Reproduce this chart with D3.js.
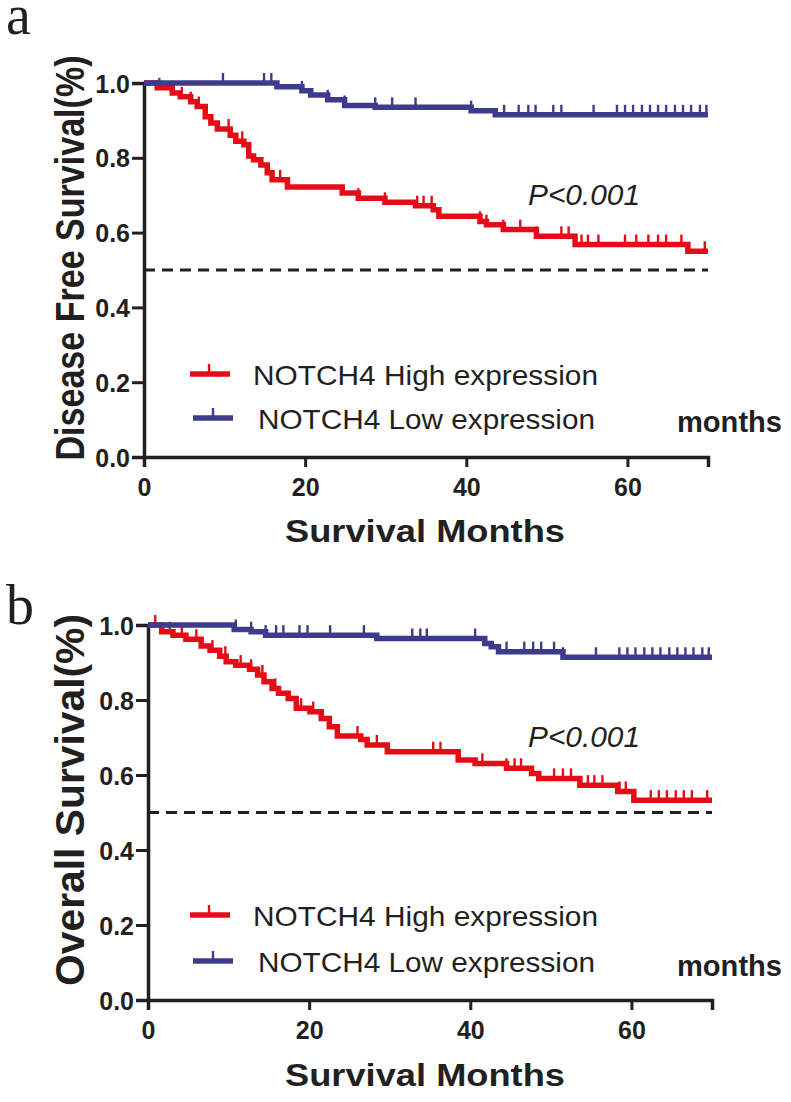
<!DOCTYPE html>
<html><head><meta charset="utf-8">
<script src="https://cdn.jsdelivr.net/npm/d3@7"></script>
<style>body{margin:0;background:#fff}svg{display:block}</style>
</head><body>
<script>
// ---------- data ----------
const xTicks = [0, 20, 40, 60];
const yTicks = [0, 0.2, 0.4, 0.6, 0.8, 1.0];
const seriesNames = ["NOTCH4 High expression", "NOTCH4 Low expression"];
const panelLetters = ["a", "b"];
const yTitles = ["Disease Free Survival(%)", "Overall Survival(%)"];
const xTitle = "Survival Months";
const unitLabel = "months";
const pLabel = "P<0.001";

// Panel a: disease free survival  [month, survival after step]
const dfsHighSteps = [[0,1],[1.65,0.987],[3.5,0.973],[4.5,0.963],[5.8,0.95],[6.6,0.937],[7.6,0.91],[8.3,0.893],[9.1,0.877],[10.7,0.86],[11.4,0.844],[12.4,0.835],[13.0,0.805],[13.6,0.795],[14.5,0.781],[15.3,0.76],[15.9,0.741],[17.8,0.722],[24.6,0.706],[26.6,0.692],[29.9,0.681],[33.7,0.672],[35.9,0.661],[36.6,0.644],[41.7,0.63],[42.5,0.621],[44.6,0.608],[48.7,0.59],[53.5,0.568],[67.5,0.55]];
const dfsHighCensor = [1.9,4.7,5.8,6.8,10.5,12.2,16.9,26.6,29.9,33.9,34.7,35.7,41.7,42.5,44.6,46.7,48.7,51.8,52.7,54.3,55.1,56.4,59.7,61.1,62.6,63.8,64.8,66.7,69.6];
const dfsLowSteps = [[0,1],[16.5,0.99],[19.6,0.979],[20.7,0.968],[22.8,0.955],[24.9,0.94],[28.7,0.935],[40.6,0.926],[43.6,0.915]];
const dfsLowCensor = [9.8,14.9,15.8,19.6,22.8,24.9,28.7,30.8,33.7,40.6,44.7,46.5,47.7,48.6,50.8,51.8,55.8,58.7,59.7,60.7,61.8,62.8,63.8,64.8,65.9,66.9,67.9,69.0,69.8];

// Panel b: overall survival
const osHighSteps = [[0,1],[1.7,0.982],[3.1,0.973],[4.7,0.962],[6.6,0.944],[7.7,0.933],[8.9,0.917],[9.7,0.902],[10.9,0.893],[12.6,0.882],[13.6,0.867],[14.4,0.849],[15.4,0.831],[16.2,0.818],[17.4,0.804],[18.4,0.778],[20.1,0.769],[21.5,0.751],[22.5,0.729],[23.5,0.704],[26.4,0.695],[27.2,0.68],[29.7,0.662],[38.5,0.64],[40.6,0.631],[44.5,0.618],[47.6,0.604],[48.5,0.591],[53.6,0.573],[58.3,0.556],[60.3,0.533]];
const osHighCensor = [0.9,2.7,4.2,6.0,8.0,9.6,11.5,12.8,14.2,15.8,19.0,20.5,26.0,28.4,35.4,36.3,38.5,41.5,44.5,45.5,46.3,50.4,51.5,52.5,54.6,55.4,56.4,58.5,59.3,62.4,63.4,64.4,65.5,66.5,67.5,69.4];
const osLowSteps = [[0,1],[10.7,0.988],[12.8,0.982],[14.6,0.973],[28.4,0.964],[41.8,0.951],[42.6,0.942],[43.5,0.929],[51.5,0.914]];
const osLowCensor = [10.9,12.8,14.6,15.9,16.8,18.8,19.8,22.6,26.8,32.8,33.8,34.6,40.6,44.5,46.7,47.8,48.8,50.4,51.5,55.6,58.5,59.5,60.5,61.6,62.6,63.6,64.7,65.7,66.7,67.7,68.8,69.6];

const xMax = 70;
const medianLine = 0.5;

// ---------- style ----------
const RED = "#e50b17", BLUE = "#3e3b8c", INK = "#231f20";

const svg = d3.select("body").append("svg").attr("width", 791).attr("height", 1102);

const panels = [
  {letterY: 34, x0: 144, x1: 708, yTop: 83, yBot: 457, high: [dfsHighSteps, dfsHighCensor], low: [dfsLowSteps, dfsLowCensor], titleCY: 258, titleLen: 405, pY: 205, legY: [374, 418], monthsY: 432, xTitleY: 542},
  {letterY: 624, x0: 148, x1: 712, yTop: 625, yBot: 1000, high: [osHighSteps, osHighCensor], low: [osLowSteps, osLowCensor], titleCY: 800, titleLen: 372, pY: 747, legY: [915, 961], monthsY: 976, xTitleY: 1086}
];

function survAt(steps, t) {
  let s = steps[0][1];
  for (const d of steps) { if (d[0] <= t) s = d[1]; }
  return s;
}

panels.forEach((p, i) => {
  const g = svg.append("g");
  const x = d3.scaleLinear().domain([0, xMax]).range([p.x0, p.x1]);
  const y = d3.scaleLinear().domain([0, 1]).range([p.yBot, p.yTop]);

  // panel letter
  g.append("text").attr("x", 6).attr("y", p.letterY)
    .attr("font-family", "Liberation Serif, serif").attr("font-size", 56).attr("fill", INK)
    .text(panelLetters[i]);

  // median dashed line
  g.append("line").attr("x1", x(0)).attr("x2", x(xMax)).attr("y1", y(medianLine)).attr("y2", y(medianLine))
    .attr("stroke", INK).attr("stroke-width", 2.8).attr("stroke-dasharray", "11,7");

  // axes
  const yAx = g.append("g").attr("transform", `translate(${x(0)},0)`)
    .call(d3.axisLeft(y).tickValues(yTicks).tickFormat(d3.format(".1f")).tickSizeOuter(0).tickSize(12).tickPadding(2));
  const xAx = g.append("g").attr("transform", `translate(0,${y(0)})`)
    .call(d3.axisBottom(x).tickValues(xTicks).tickFormat(d3.format("d")).tickSizeOuter(0).tickSize(10).tickPadding(11));
  [yAx, xAx].forEach(a => {
    a.select(".domain").attr("stroke", INK).attr("stroke-width", 3.5);
    a.selectAll(".tick line").attr("stroke", INK).attr("stroke-width", 3);
    a.selectAll(".tick text").attr("fill", INK).attr("font-family", "Liberation Sans, Arial, sans-serif")
      .attr("font-weight", "bold").attr("font-size", 25);
  });
  yAx.selectAll(".tick text").attr("dy", "0.36em");

  // curves
  const line = d3.line().x(d => x(d[0])).y(d => y(d[1])).curve(d3.curveStepAfter);
  [[p.high, RED], [p.low, BLUE]].forEach(([ser, col]) => {
    const steps = ser[0];
    const pts = steps.concat([[xMax, steps[steps.length - 1][1]]]);
    g.append("path").datum(pts).attr("d", line).attr("fill", "none")
      .attr("stroke", col).attr("stroke-width", 5.5).attr("stroke-linejoin", "miter").attr("stroke-linecap", "butt");
    g.selectAll(null).data(ser[1]).enter().append("line")
      .attr("x1", d => x(d)).attr("x2", d => x(d))
      .attr("y1", d => y(survAt(steps, d))).attr("y2", d => y(survAt(steps, d)) - 10)
      .attr("stroke", col).attr("stroke-width", 2.4);
  });

  // legend
  const legCols = [RED, BLUE];
  const legX = [[190, 230, 209, 253, 345], [193, 233, 213, 258, 337]];
  seriesNames.forEach((nm, k) => {
    const L = legX[k], ly = p.legY[k];
    g.append("line").attr("x1", L[0]).attr("x2", L[1]).attr("y1", ly).attr("y2", ly)
      .attr("stroke", legCols[k]).attr("stroke-width", 5.5);
    g.append("line").attr("x1", L[2]).attr("x2", L[2]).attr("y1", ly).attr("y2", ly - 10)
      .attr("stroke", legCols[k]).attr("stroke-width", 2.4);
    g.append("text").attr("x", L[3]).attr("y", ly + 11)
      .attr("font-family", "Liberation Sans, Arial, sans-serif").attr("font-size", 28).attr("fill", INK)
      .attr("textLength", L[4]).attr("lengthAdjust", "spacingAndGlyphs").text(nm);
  });

  // P value
  g.append("text").attr("x", 528).attr("y", p.pY)
    .attr("font-family", "Liberation Sans, Arial, sans-serif").attr("font-style", "italic").attr("font-size", 29)
    .attr("fill", INK).attr("textLength", 112).attr("lengthAdjust", "spacingAndGlyphs").text(pLabel);

  // months label
  g.append("text").attr("x", 677).attr("y", p.monthsY)
    .attr("font-family", "Liberation Sans, Arial, sans-serif").attr("font-weight", "bold").attr("font-size", 29)
    .attr("fill", INK).attr("textLength", 105).attr("lengthAdjust", "spacingAndGlyphs").text(unitLabel);

  // x title
  g.append("text").attr("x", 285).attr("y", p.xTitleY)
    .attr("font-family", "Liberation Sans, Arial, sans-serif").attr("font-weight", "bold").attr("font-size", 32)
    .attr("fill", INK).attr("textLength", 280).attr("lengthAdjust", "spacingAndGlyphs").text(xTitle);

  // y title
  g.append("text").attr("transform", `translate(84,${p.titleCY}) rotate(-90)`).attr("text-anchor", "middle")
    .attr("font-family", "Liberation Sans, Arial, sans-serif").attr("font-weight", "bold").attr("font-size", 41)
    .attr("fill", INK).attr("textLength", p.titleLen).attr("lengthAdjust", "spacingAndGlyphs").text(yTitles[i]);
});
</script>
</body></html>
